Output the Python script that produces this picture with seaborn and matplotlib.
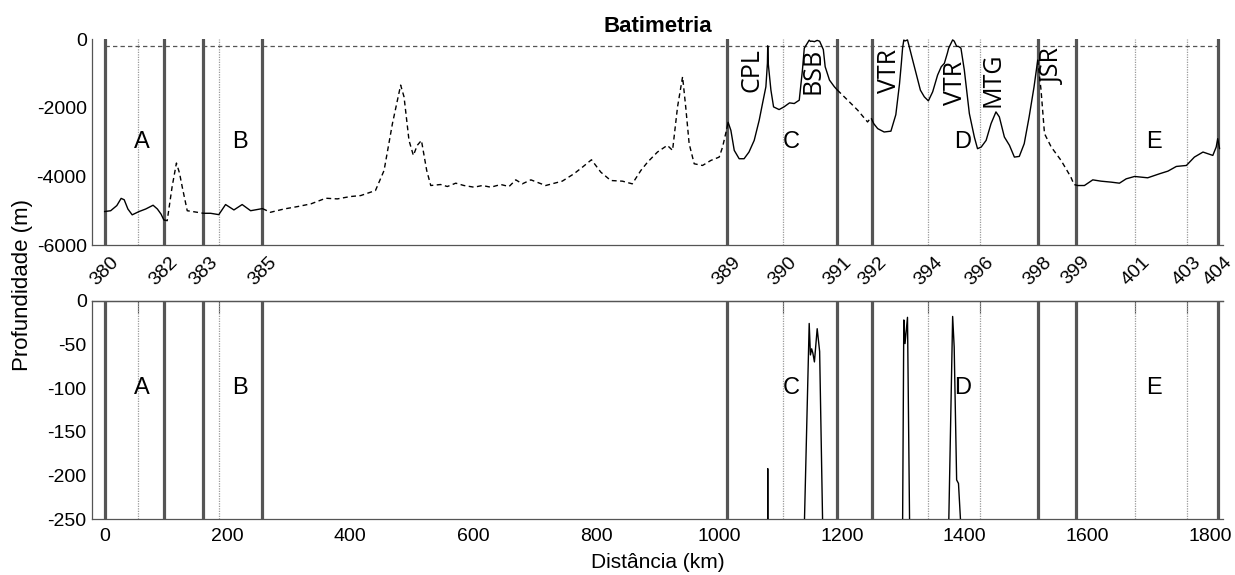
import numpy as np
import pandas as pd
import matplotlib
matplotlib.use('Agg')
import matplotlib.pyplot as plt
import seaborn as sns

# ---------------- data ----------------
distance_km = [
    0, 10, 20, 27, 32, 38, 45, 56, 67, 79, 86, 92, 96.6,
    102, 110, 117, 122, 126.5, 134.6, 151, 160.7,
    172.6, 186, 197, 210.6, 224, 237.8, 257,
    270, 292, 314, 336, 360, 379, 400, 417, 441, 455, 468.6, 482, 487.5,
    495.6, 502.7, 509, 515.8, 524.4, 531, 547, 558, 571.7, 585, 601.5, 615,
    628.7, 645, 658.5, 669.4, 680, 694, 718, 745, 764, 778, 792.6, 807.8,
    824, 843, 859, 873, 884, 900, 916, 924.6, 932.7, 940.9, 946, 951.6,
    959.8, 973.4, 987, 1000.5, 1006, 1013,
    1015, 1019.5, 1025, 1033, 1041, 1049, 1057.5, 1065.6, 1071, 1076.5,
    1079, 1079.5, 1080.3, 1084.7, 1089, 1098, 1106, 1115, 1122.6, 1130.8,
    1136, 1139, 1147, 1149, 1151, 1153, 1155.5, 1160, 1164, 1170, 1173,
    1180, 1188, 1193,
    1209.6, 1226, 1242, 1247.6, 1250,
    1252, 1258.5, 1269, 1280, 1288, 1294, 1297, 1299, 1301, 1303, 1307,
    1310.5, 1314, 1321, 1328, 1334.4, 1341, 1348, 1356, 1362, 1367, 1372,
    1374, 1380.5, 1383, 1387, 1390, 1394, 1399.5, 1407.7, 1415.8, 1421,
    1427, 1435, 1443, 1451, 1456.5, 1464.7, 1473, 1481, 1489, 1497, 1505,
    1513, 1519,
    1524.4, 1530, 1541, 1557, 1573, 1578, 1581,
    1584, 1595, 1608.6, 1622, 1638.8, 1652, 1663, 1676.7, 1698, 1717, 1731,
    1744.6, 1761, 1774, 1788, 1796, 1804, 1809.5, 1812, 1815,
]
depth_m = [
    -5025, -5000, -4850, -4640, -4680, -4950, -5120, -5025, -4950, -4840, -4950, -5100, -5270,
    -5290, -4300, -3610, -3900, -4310, -5000, -5046, -5075,
    -5075, -5114, -4820, -4977, -4820, -5000, -4938,
    -5046, -4950, -4880, -4800, -4636, -4655, -4587, -4558, -4411, -3826, -2460, -1337, -1680,
    -2950, -3387, -3094, -2950, -3826, -4265, -4236, -4294, -4197, -4265, -4314, -4265,
    -4314, -4236, -4294, -4100, -4216, -4100, -4265, -4138, -3924, -3728, -3514, -3875,
    -4119, -4138, -4216, -3826, -3582, -3289, -3094, -3240, -1972, -1093, -1972, -3045,
    -3631, -3680, -3533, -3436, -3143, -2600,
    -2420, -2655, -3240, -3484, -3484, -3289, -2948, -2362, -1874, -1386,
    -700, -192, -700, -1484, -1972, -2050, -1972, -1855, -1874, -1776,
    -898, -260, -26, -62, -55, -60, -70, -32, -58, -300, -800,
    -1190, -1386, -1484,
    -1776, -2069, -2411, -2284, -2380,
    -2460, -2606, -2704, -2680, -2200, -1300, -700, -260, -22, -49, -19,
    -260, -508, -995, -1484, -1679, -1796, -1532, -1044, -800, -703, -400,
    -260, -18, -53, -205, -209, -260, -898, -2167, -2850, -3191,
    -3143, -2948, -2460, -2118, -2264, -2850, -3094, -3436, -3416, -3045, -2264,
    -1386, -605,
    -1484, -2752, -3143, -3533, -4021, -4236, -4250,
    -4265, -4265, -4100, -4138, -4167, -4197, -4070, -4001, -4040, -3924, -3845,
    -3709, -3680, -3436, -3289, -3338, -3387, -3143, -2899, -3191,
]

# segment breakpoints and which stretches are drawn solid
breakpoints = [0, 96.6, 160.7, 257, 1013, 1193, 1250, 1519, 1581, 1815]
solid_flags = [True, False, True, False, True, False, True, False, True]

section_pos = [0, 96.6, 160.7, 257, 1013, 1193, 1250, 1519, 1581, 1812]
section_lbl = ['380', '382', '383', '385', '389', '391', '392', '398', '399', '404']
sub_pos = [54.3, 186, 1104, 1341, 1425, 1678, 1762]
sub_lbl = ['', '', '390', '394', '396', '401', '403']

region_names = ['A', 'B', 'C', 'D', 'E']
region_x = [61.5, 221, 1117, 1397, 1708]
region_y_top = -3000
region_y_bottom = -100

feature_names = ['CPL', 'BSB', 'VTR', 'VTR', 'MTG', 'JSR']
feature_x = [1054, 1154, 1277, 1385, 1447, 1544]
feature_y = [-884, -923, -923, -1288, -1191, -776]

reference_depth = -200
x_range = (-20, 1820)
top_yticks = [0, -2000, -4000, -6000]
bottom_yticks = [0, -50, -100, -150, -200, -250]
bottom_xticks = [0, 200, 400, 600, 800, 1000, 1200, 1400, 1600, 1800]

# ---------------- build segmented frame ----------------
d = np.array(distance_km, dtype=float)
z = np.array(depth_m, dtype=float)
frames = []
for i, (a, b) in enumerate(zip(breakpoints[:-1], breakpoints[1:])):
    m = (d >= a - 1e-9) & (d <= b + 1e-9)
    frames.append(pd.DataFrame({
        'dist': d[m], 'depth': z[m], 'seg': i,
        'kind': 'solid' if solid_flags[i] else 'dashed'}))
df = pd.concat(frames, ignore_index=True)

# ---------------- style ----------------
sns.set_style('white')
plt.rcParams['font.family'] = ['Liberation Sans', 'DejaVu Sans']
plt.rcParams['axes.edgecolor'] = '#555555'
plt.rcParams['axes.linewidth'] = 0.9
plt.rcParams['text.color'] = 'black'
plt.rcParams['axes.labelcolor'] = 'black'

fig = plt.figure(figsize=(12.35, 5.75), dpi=100)
ax1 = fig.add_axes([0.0747, 0.5739, 0.9153, 0.3578])
ax2 = fig.add_axes([0.0747, 0.0969, 0.9153, 0.3801])

tick_fs = 14
for ax in (ax1, ax2):
    for p in section_pos:
        ax.axvline(p, color='#555555', lw=2.3, zorder=1)
    for p in sub_pos:
        ax.axvline(p, color='#9a9a9a', lw=0.9, ls=(0, (1, 1)), zorder=1)
    sns.lineplot(data=df, x='dist', y='depth', units='seg', estimator=None,
                 style='kind', dashes={'solid': '', 'dashed': (3.5, 2.5)},
                 color='black', lw=1.0, sort=False, legend=False, ax=ax, zorder=3)
    ax.set_xlim(*x_range)
    ax.set_xlabel('')
    ax.set_ylabel('')
    ax.tick_params(direction='in', length=8.5, width=0.8, color='#555555',
                   labelsize=tick_fs, labelcolor='black')

# top panel
ax1.hlines(reference_depth, 0, x_range[1], colors='#555555', lw=0.9,
           linestyles=(0, (3.5, 2.5)), zorder=2)
ax1.set_ylim(-6000, 0)
ax1.set_yticks(top_yticks)
ax1.set_yticklabels([str(t) for t in top_yticks])
all_pos = section_pos + sub_pos
all_lbl = section_lbl + sub_lbl
order = np.argsort(all_pos)
ax1.set_xticks([all_pos[i] for i in order])
ax1.set_xticklabels([all_lbl[i] for i in order], rotation=45, ha='center', va='top')
ax1.tick_params(axis='x', pad=6)
ax1.tick_params(axis='y', pad=4)
for s in ('top', 'right'):
    ax1.spines[s].set_visible(False)
ax1.set_title('Batimetria', fontsize=16, fontweight='bold', pad=5)
for name, x in zip(region_names, region_x):
    ax1.text(x, region_y_top, name, fontsize=17, ha='center', va='center')
for name, x, y in zip(feature_names, feature_x, feature_y):
    ax1.text(x, y, name, fontsize=18, rotation=90, ha='center', va='center',
             family=['Open Sans', 'DejaVu Sans'])

# bottom panel
ax2.set_ylim(-250, 0)
ax2.set_yticks(bottom_yticks)
ax2.set_yticklabels([str(t) for t in bottom_yticks])
ax2.set_xticks(bottom_xticks)
ax2.set_xticklabels([str(t) for t in bottom_xticks])
ax2.tick_params(axis='x', pad=6)
ax2.tick_params(axis='y', pad=4)
ax2.spines['right'].set_visible(False)
sec = ax2.secondary_xaxis('top')
sec.set_xticks(sorted(all_pos))
sec.set_xticklabels([])
sec.tick_params(direction='in', length=8.5, width=0.8, color='#555555')
sec.spines['top'].set_color('#555555')
for name, x in zip(region_names, region_x):
    ax2.text(x, region_y_bottom, name, fontsize=17, ha='center', va='center')
ax2.set_xlabel('Distância (km)', fontsize=15, labelpad=6)

fig.text(0.018, 0.504, 'Profundidade (m)', rotation=90, ha='center', va='center',
         fontsize=16)

fig.savefig('out.png', dpi=100)
